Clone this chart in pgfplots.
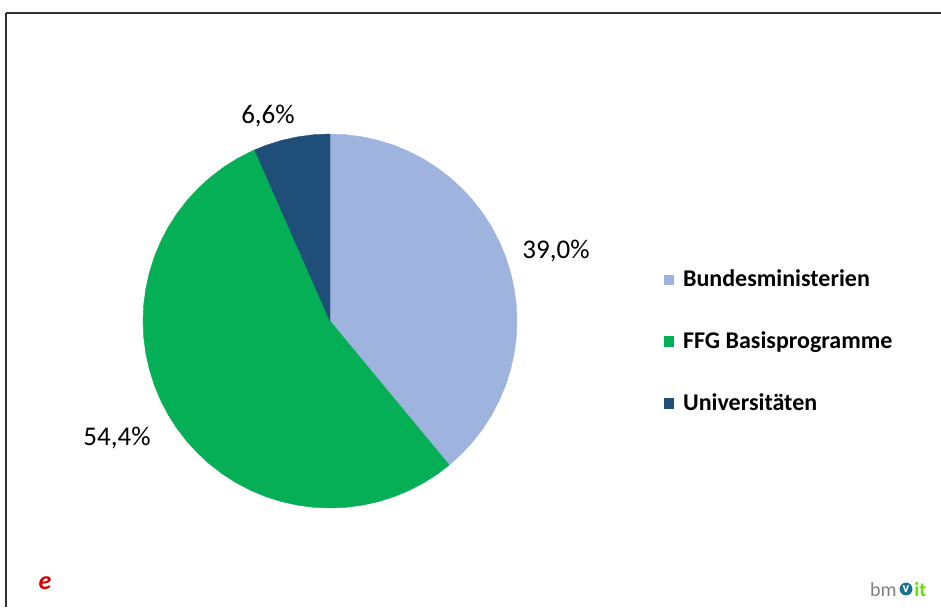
\documentclass[border=0pt]{standalone}
\usepackage{pgfplots}
\pgfplotsset{compat=1.18}
\usepgfplotslibrary{polar}
\usepackage{fontspec}
\setmainfont{Carlito}
\definecolor{cBund}{HTML}{9EB3DD}
\definecolor{cFFG}{HTML}{05AF55}
\definecolor{cUni}{HTML}{1F4E79}
\definecolor{cFrame}{HTML}{303030}
\begin{document}
\begin{tikzpicture}[x=0.5pt,y=0.5pt]
\useasboundingbox (0,0) rectangle (941,607);
% frame axis (pixel coordinates, y measured from bottom)
\begin{axis}[
  at={(3pt,0pt)}, anchor=south west,
  width=467.5pt, height=297pt, scale only axis,
  xmin=6, xmax=941, ymin=0, ymax=594,
  axis x line*=top, axis y line*=left,
  axis line style={cFrame, line width=1pt},
  xtick=\empty, ytick=\empty, clip=false,
  legend style={at={(axis description cs:0.703,0.575)}, anchor=north west,
    draw=none, fill=none, inner sep=0pt, font=\bfseries\fontsize{12}{14}\selectfont,
    row sep=17pt, legend cell align=left,
    /tikz/every even column/.append style={column sep=0pt},
    /tikz/every odd column/.append style={column sep=2.5pt}},
  legend image code/.code={\fill[#1] (0pt,-2.6pt) rectangle (5.2pt,2.6pt);},
]
\addlegendimage{fill=cBund, draw=none}
\addlegendentry{Bundesministerien}
\addlegendimage{fill=cFFG, draw=none}
\addlegendentry{FFG Basisprogramme}
\addlegendimage{fill=cUni, draw=none}
\addlegendentry{Universitäten}
\node[font=\fontsize{13.5}{15}\selectfont] at (axis cs:268,491) {6,6\%};
\node[font=\fontsize{13.5}{15}\selectfont] at (axis cs:556,356) {39,0\%};
\node[font=\fontsize{13.5}{15}\selectfont] at (axis cs:117,169) {54,4\%};
\node[text=red!85!black, font=\itshape\bfseries\fontsize{13}{14}\selectfont] at (axis cs:45,24) {e};
\node[text=gray, anchor=east, font=\fontsize{10}{12}\selectfont, inner sep=0pt] at (axis cs:897,17) {bm};
\node[circle, fill=cUni!80!cyan, text=white, inner sep=0.6pt, font=\bfseries\fontsize{7}{8}\selectfont] at (axis cs:906,18) {v};
\node[text=green!60!yellow!90!black, anchor=west, font=\bfseries\fontsize{10}{12}\selectfont, inner sep=0pt] at (axis cs:914,17) {it};
\end{axis}
% pie: shares 39.0 / 54.4 / 6.6 percent, clockwise from top
\begin{polaraxis}[
  at={(165pt,143pt)}, anchor=center,
  width=187pt, height=187pt, scale only axis,
  ymin=0, ymax=1, hide axis, clip=false,
]
% Bundesministerien 39.0 % : 90 -> -50.4 deg
\addplot[fill=cBund, draw=cBund, line width=0.2pt] coordinates {
(0,0) (90,1) (85,1) (80,1) (75,1) (70,1) (65,1) (60,1) (55,1) (50,1) (45,1)
(40,1) (35,1) (30,1) (25,1) (20,1) (15,1) (10,1) (5,1) (0,1) (-5,1) (-10,1)
(-15,1) (-20,1) (-25,1) (-30,1) (-35,1) (-40,1) (-45,1) (-50,1) (-50.4,1) (0,0)
} -- cycle;
% FFG Basisprogramme 54.4 % : -50.4 -> -246.24 deg
\addplot[fill=cFFG, draw=cFFG, line width=0.2pt] coordinates {
(0,0) (-50.4,1) (-55,1) (-60,1) (-65,1) (-70,1) (-75,1) (-80,1) (-85,1) (-90,1)
(-95,1) (-100,1) (-105,1) (-110,1) (-115,1) (-120,1) (-125,1) (-130,1) (-135,1)
(-140,1) (-145,1) (-150,1) (-155,1) (-160,1) (-165,1) (-170,1) (-175,1) (-180,1)
(-185,1) (-190,1) (-195,1) (-200,1) (-205,1) (-210,1) (-215,1) (-220,1) (-225,1)
(-230,1) (-235,1) (-240,1) (-245,1) (-246.24,1) (0,0)
} -- cycle;
% Universitaeten 6.6 % : -246.24 -> -270 deg
\addplot[fill=cUni, draw=cUni, line width=0.2pt] coordinates {
(0,0) (-246.24,1) (-250,1) (-255,1) (-260,1) (-265,1) (-270,1) (0,0)
} -- cycle;
\end{polaraxis}
\end{tikzpicture}
\end{document}
